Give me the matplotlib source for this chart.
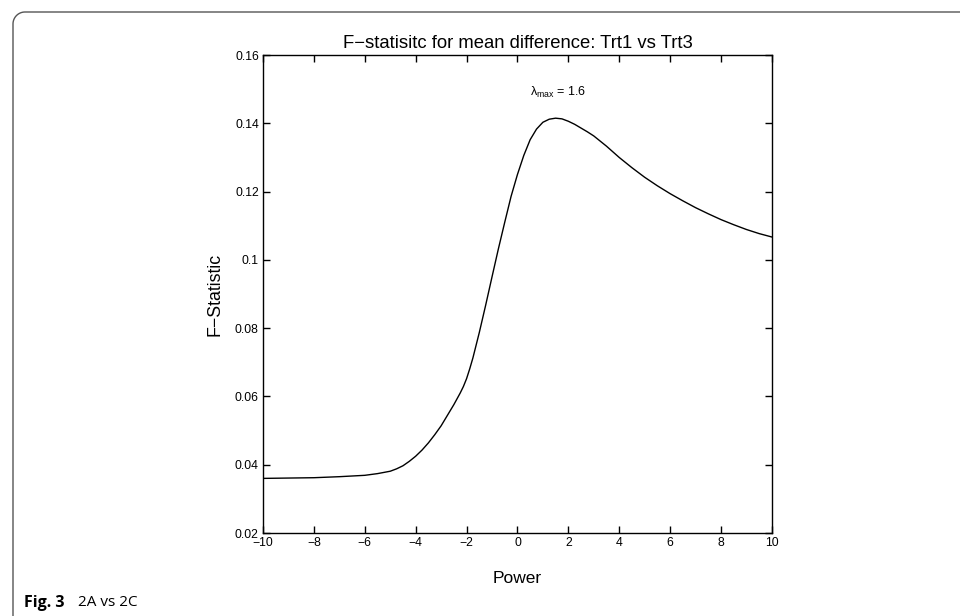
import numpy as np
import matplotlib.pyplot as plt

plt.rcParams['font.family'] = ['Liberation Sans Narrow', 'Liberation Sans', 'DejaVu Sans']
plt.rcParams['mathtext.fontset'] = 'custom'
plt.rcParams['mathtext.rm'] = 'Liberation Sans'
plt.rcParams['mathtext.it'] = 'Liberation Sans'

# data
power = [-10, -9, -8, -7, -6, -5.5, -5, -4.75, -4.5, -4.25, -4, -3.75, -3.5,
         -3.25, -3, -2.75, -2.5, -2.25, -2.125, -2, -1.875, -1.75, -1.5,
         -1.25, -1, -0.75, -0.5, -0.25, 0, 0.25, 0.5, 0.75, 1, 1.25, 1.5,
         1.75, 2, 2.25, 2.5, 2.75, 3, 3.5, 4, 4.5, 5, 5.5, 6, 6.5, 7, 7.5,
         8, 8.5, 9, 9.5, 10]
fstat = [0.0360, 0.0361, 0.0362, 0.0365, 0.0369, 0.0374, 0.0381, 0.0388,
         0.0397, 0.0410, 0.0425, 0.0443, 0.0464, 0.0488, 0.0514, 0.0545,
         0.0576, 0.0610, 0.0629, 0.0652, 0.0681, 0.0713, 0.0787, 0.0867,
         0.0950, 0.1032, 0.1110, 0.1186, 0.1250, 0.1306, 0.1352, 0.1383,
         0.1403, 0.1412, 0.1415, 0.1413, 0.1406, 0.1397, 0.1386, 0.1375,
         0.1363, 0.1333, 0.1300, 0.1270, 0.1242, 0.1217, 0.1194, 0.1173,
         0.1153, 0.1135, 0.1118, 0.1103, 0.1089, 0.1077, 0.1067]
lam_max = 1.6

xticks = np.arange(-10, 11, 2)
yticks = [0.02, 0.04, 0.06, 0.08, 0.1, 0.12, 0.14, 0.16]

fig = plt.figure(figsize=(9.6, 6.16), dpi=100)

# page frame (rounded top-left corner) in pixel coords
bg = fig.add_axes([0, 0, 1, 1])
bg.set_xlim(0, 960)
bg.set_ylim(616, 0)
bg.axis('off')
r = 12
t = np.linspace(np.pi, 1.5 * np.pi, 30)
fx = np.concatenate([[13, 13], 13 + r + r * np.cos(t), [960]])
fy = np.concatenate([[616, 12 + r], 12 + r + r * np.sin(t), [12]])
bg.plot(fx, fy, color='#555555', lw=1.0)
bg.text(24, 603, 'Fig. 3', fontfamily='Open Sans', fontweight='bold',
        fontsize=11.5, va='center', ha='left')
bg.text(78, 603, '2A vs 2C', fontfamily='Open Sans', fontsize=11,
        va='center', ha='left')

ax = fig.add_axes([0.274, 0.1347, 0.530, 0.776])
ax.plot(power, fstat, 'k-', lw=1.0)
ax.set_xlim(-10, 10)
ax.set_ylim(0.02, 0.16)
ax.set_xticks(xticks)
ax.set_yticks(yticks)
ax.set_yticklabels(['%g' % v for v in yticks])
ax.tick_params(direction='in', length=5, width=1.0, top=True, right=True,
               labelsize=8.8, pad=3)
for s in ax.spines.values():
    s.set_linewidth(1.0)

ax.set_title('F\u2212statisitc for mean difference: Trt1 vs Trt3', fontsize=13.3, pad=5)
ax.set_xlabel('Power', fontsize=12.5, labelpad=16)
ax.set_ylabel('F\u2212Statistic', fontsize=12.8, labelpad=8)
ax.text(lam_max - 1.1, 0.149, r'$\lambda_{max}$ = %g' % lam_max,
        fontsize=9, ha='left', va='center')

fig.savefig('out.png', dpi=100)
